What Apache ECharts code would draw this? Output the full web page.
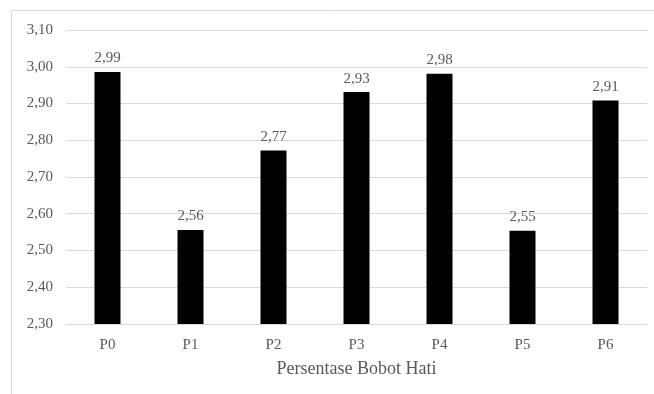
<!DOCTYPE html>
<html>
<head>
<meta charset="utf-8">
<script src="https://cdn.jsdelivr.net/npm/echarts@6/dist/echarts.min.js"></script>
<style>
  html, body { margin: 0; padding: 0; background: #fff; }
  #chart { width: 654px; height: 394px; }
</style>
</head>
<body>
<div id="chart"></div>
<script>
// Liver weight percentage per treatment group
const categories = ['P0', 'P1', 'P2', 'P3', 'P4', 'P5', 'P6'];
const values = [2.986, 2.556, 2.772, 2.931, 2.981, 2.554, 2.908];
const yTicks = { min: 2.3, max: 3.1, step: 0.1 };
const xTitle = 'Persentase Bobot Hati';

const comma = (v) => v.toFixed(2).replace('.', ',');
const font = '"Liberation Serif", "Times New Roman", serif';
const textColor = '#595959';

const chart = echarts.init(document.getElementById('chart'), null, { renderer: 'canvas' });
chart.setOption({
  animation: false,
  backgroundColor: '#ffffff',
  graphic: [
    { type: 'line', shape: { x1: 11.5, y1: 10.5, x2: 654, y2: 10.5 }, style: { stroke: '#d9d9d9', lineWidth: 1 } },
    { type: 'line', shape: { x1: 11.5, y1: 10.5, x2: 11.5, y2: 394 }, style: { stroke: '#d9d9d9', lineWidth: 1 } }
  ],
  grid: { left: 66, right: 7, top: 30, bottom: 70, containLabel: false },
  xAxis: {
    type: 'category',
    data: categories,
    name: xTitle,
    nameLocation: 'middle',
    nameGap: 36,
    nameTextStyle: { fontFamily: font, fontSize: 18, color: textColor },
    axisLine: { show: true, lineStyle: { color: '#d9d9d9', width: 1 } },
    axisTick: { show: false },
    axisLabel: { fontFamily: font, fontSize: 15, color: textColor, margin: 14 }
  },
  yAxis: {
    type: 'value',
    min: yTicks.min,
    max: yTicks.max,
    interval: yTicks.step,
    axisLine: { show: false },
    axisTick: { show: false },
    splitLine: { lineStyle: { color: '#d9d9d9', width: 1 } },
    axisLabel: { fontFamily: font, fontSize: 15, color: textColor, margin: 13, formatter: comma }
  },
  series: [{
    type: 'bar',
    data: values,
    barWidth: 26,
    itemStyle: { color: '#000000' },
    label: {
      show: true,
      position: 'top',
      distance: 6,
      fontFamily: font,
      fontSize: 15,
      color: textColor,
      formatter: (p) => comma(p.value)
    }
  }]
});
</script>
</body>
</html>
